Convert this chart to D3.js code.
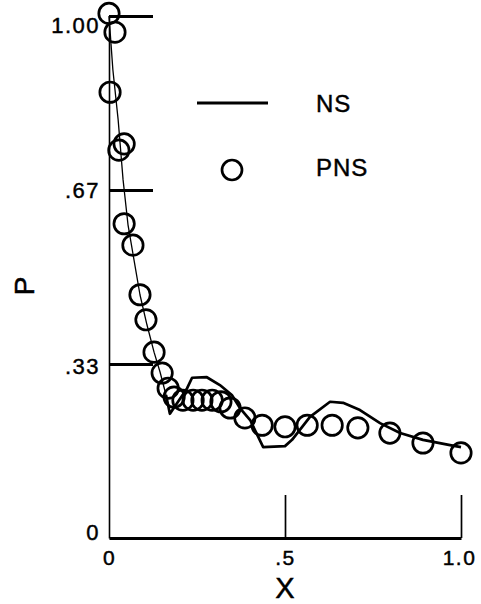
<!DOCTYPE html>
<html>
<head>
<meta charset="utf-8">
<script src="https://cdn.jsdelivr.net/npm/d3@7"></script>
<style>
  html, body { margin: 0; padding: 0; background: #fff; }
  svg { display: block; }
  text { font-family: "Liberation Sans", Arial, sans-serif; fill: #000; stroke: #000; stroke-width: 0.45px; }
</style>
</head>
<body>
<svg id="chart" width="481" height="604"></svg>
<script>
// NS solution: x position and pressure P
const nsX = [0.000, 0.011, 0.026, 0.040, 0.054, 0.071, 0.088, 0.108, 0.128, 0.145,
             0.162, 0.173, 0.222, 0.236, 0.278, 0.315, 0.349, 0.372, 0.401, 0.438,
             0.500, 0.520, 0.571, 0.628, 0.665, 0.713, 0.770, 0.827, 0.892, 0.969, 1.000];
const nsP = [1.000, 0.897, 0.801, 0.686, 0.600, 0.533, 0.466, 0.408, 0.356, 0.318,
             0.274, 0.238, 0.287, 0.307, 0.308, 0.293, 0.274, 0.249, 0.226, 0.174,
             0.176, 0.188, 0.232, 0.261, 0.259, 0.245, 0.220, 0.201, 0.188, 0.178, 0.174];

// PNS solution: sampled points
const pnsX = [0.000, 0.017, 0.003, 0.028, 0.043, 0.043, 0.068, 0.088, 0.105, 0.128,
              0.151, 0.168, 0.185, 0.210, 0.239, 0.264, 0.293, 0.318, 0.344, 0.386,
              0.435, 0.500, 0.563, 0.634, 0.707, 0.798, 0.892, 1.000];
const pnsP = [1.005, 0.969, 0.854, 0.743, 0.755, 0.602, 0.561, 0.466, 0.418, 0.356,
              0.316, 0.287, 0.270, 0.264, 0.264, 0.264, 0.264, 0.261, 0.249, 0.230,
              0.216, 0.213, 0.216, 0.216, 0.211, 0.201, 0.182, 0.163];

// Axis ticks
const yTicks = [0, 1/3, 2/3, 1];
const yTickLabels = ["0", ".33", ".67", "1.00"];
const xTicks = [0, 0.5, 1];
const xTickLabels = ["0", ".5", "1.0"];

const seriesNames = ["NS", "PNS"];

const svg = d3.select("#chart");

const x = d3.scaleLinear().domain([0, 1]).range([109, 461]);
const y = d3.scaleLinear().domain([0, 1]).range([538, 16]);

// Y axis: ticks reach into the plot to the right
const yAxis = svg.append("g")
  .attr("transform", `translate(${x(0)},0)`)
  .call(d3.axisLeft(y).tickValues(yTicks).tickSize(-44).tickSizeOuter(0)
        .tickFormat((d, i) => yTickLabels[i]));
yAxis.select(".domain").attr("stroke", "#000").attr("stroke-width", 1.6);
yAxis.selectAll(".tick line")
  .attr("stroke", "#000").attr("stroke-width", 2.8)
  .attr("opacity", d => d === 0 ? 0 : 1);
yAxis.selectAll(".tick text")
  .attr("x", -9)
  .attr("dy", (d, i) => [ "0.05em", "0.45em", "0.35em", "0.75em" ][i])
  .style("font-size", "22px")
  .style("letter-spacing", "1.5px");

// X axis: ticks reach up into the plot
const xAxis = svg.append("g")
  .attr("transform", `translate(0,${y(0)})`)
  .call(d3.axisBottom(x).tickValues(xTicks).tickSize(-43).tickSizeOuter(0)
        .tickFormat((d, i) => xTickLabels[i]));
xAxis.select(".domain").attr("stroke", "#000").attr("stroke-width", 2.8);
xAxis.selectAll(".tick line")
  .attr("stroke", "#000").attr("stroke-width", 1.7)
  .attr("opacity", d => d === 0 ? 0 : 1);
xAxis.selectAll(".tick text")
  .attr("y", 12)
  .attr("dy", "0.71em")
  .attr("dx", (d, i) => i === 2 ? "-2px" : 0)
  .style("font-size", "21px")
  .style("letter-spacing", "1.5px");
svg.selectAll(".tick text").attr("fill", "#000");

// Axis titles
svg.append("text")
  .attr("x", x(0.5)).attr("y", 598)
  .attr("text-anchor", "middle")
  .style("font-size", "29px")
  .text("X");
svg.append("text")
  .attr("transform", `translate(34,286) rotate(-90)`)
  .attr("text-anchor", "middle")
  .style("font-size", "28px")
  .text("P");

// NS curve: thin along the steep drop, heavier afterwards
const nsData = nsX.map((v, i) => [v, nsP[i]]);
const line = d3.line().x(d => x(d[0])).y(d => y(d[1]));
const split = 10;
svg.append("path")
  .datum(nsData.slice(0, split + 1))
  .attr("d", line)
  .attr("fill", "none").attr("stroke", "#000").attr("stroke-width", 1.3)
  .attr("stroke-linejoin", "round");
svg.append("path")
  .datum(nsData.slice(split))
  .attr("d", line)
  .attr("fill", "none").attr("stroke", "#000").attr("stroke-width", 2.7)
  .attr("stroke-linejoin", "round");

// PNS points
svg.append("g").selectAll("circle")
  .data(pnsX.map((v, i) => [v, pnsP[i]]))
  .join("circle")
  .attr("cx", d => x(d[0]))
  .attr("cy", d => y(d[1]))
  .attr("r", 10.2)
  .attr("fill", "none")
  .attr("stroke", "#000")
  .attr("stroke-width", 2.7);

// Legend
const legend = svg.append("g");
legend.append("line")
  .attr("x1", 197).attr("x2", 268).attr("y1", 103).attr("y2", 103)
  .attr("stroke", "#000").attr("stroke-width", 2.8);
legend.append("circle")
  .attr("cx", 232).attr("cy", 170).attr("r", 10)
  .attr("fill", "none").attr("stroke", "#000").attr("stroke-width", 2.7);
legend.selectAll("text")
  .data(seriesNames)
  .join("text")
  .attr("x", 316)
  .attr("y", (d, i) => i === 0 ? 112 : 176)
  .style("font-size", "24px")
  .style("letter-spacing", "1px")
  .text(d => d);
</script>
</body>
</html>
